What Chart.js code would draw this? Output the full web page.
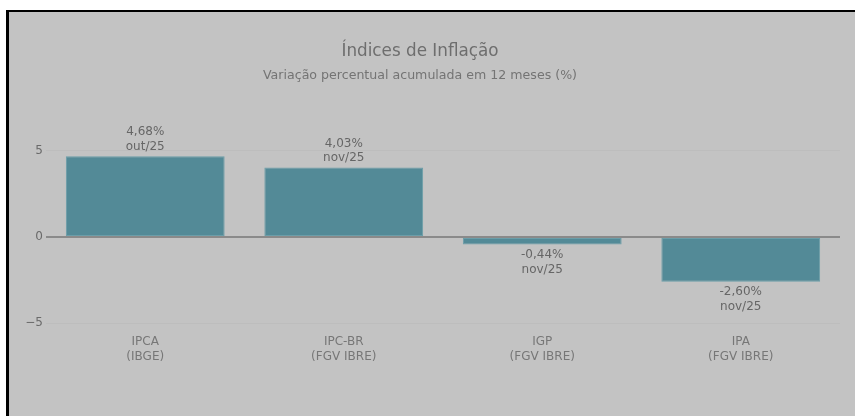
<!DOCTYPE html>
<html>
<head>
<meta charset="utf-8">
<script src="https://cdn.jsdelivr.net/npm/chart.js@4.4.1/dist/chart.umd.min.js"></script>
<style>
  html, body { margin: 0; padding: 0; background: #ffffff; width: 855px; height: 416px; overflow: hidden; }
  #panel { position: absolute; left: 6px; top: 10px; width: 860px; height: 420px;
           background: #c3c3c3; border-left: 3px solid #000; border-top: 2px solid #000; }
  #wrap { position: absolute; left: 0; top: 0; width: 855px; height: 416px; }
</style>
</head>
<body>
<div id="panel"></div>
<div id="wrap"><canvas id="c" width="855" height="416"></canvas></div>
<script>
const categories = [['IPCA', '(IBGE)'], ['IPC-BR', '(FGV IBRE)'], ['IGP', '(FGV IBRE)'], ['IPA', '(FGV IBRE)']];
const values = [4.68, 4.03, -0.44, -2.60];
const refMonths = ['out/25', 'nov/25', 'nov/25', 'nov/25'];
const yTicks = [-5, 0, 5];
const titleText = 'Índices de Inflação';
const subtitleText = 'Variação percentual acumulada em 12 meses (%)';

const FONT = "'DejaVu Sans', Verdana, sans-serif";

const barLabels = {
  id: 'barLabels',
  afterDatasetsDraw(chart) {
    const ctx = chart.ctx;
    const meta = chart.getDatasetMeta(0);
    ctx.save();
    ctx.font = '12px ' + FONT;
    ctx.fillStyle = '#666666';
    ctx.textAlign = 'center';
    ctx.textBaseline = 'middle';
    meta.data.forEach((el, i) => {
      const v = values[i];
      const txt = v.toFixed(2).replace('.', ',') + '%';
      if (v >= 0) {
        ctx.fillText(refMonths[i], el.x, el.y - 9.5);
        ctx.fillText(txt, el.x, el.y - 24);
      } else {
        ctx.fillText(txt, el.x, el.y + 10.5);
        ctx.fillText(refMonths[i], el.x, el.y + 25.5);
      }
    });
    ctx.restore();
  }
};

new Chart(document.getElementById('c'), {
  type: 'bar',
  data: {
    labels: categories,
    datasets: [{
      data: values,
      backgroundColor: '#538a97',
      borderColor: '#6b9ea9',
      borderWidth: 1,
      borderSkipped: false,
      barPercentage: 0.8,
      categoryPercentage: 1.0
    }]
  },
  options: {
    responsive: false,
    animation: false,
    devicePixelRatio: 1,
    layout: { padding: { left: 0, right: 15, top: 42, bottom: 41 } },
    plugins: {
      legend: { display: false },
      tooltip: { enabled: false },
      title: {
        display: true, text: titleText, color: '#6e6e6e',
        font: { family: FONT, size: 16.8, weight: 'normal' },
        padding: { top: 0, bottom: 6 }
      },
      subtitle: {
        display: true, text: subtitleText, color: '#747474',
        font: { family: FONT, size: 12.6, weight: 'normal' },
        padding: { top: 0, bottom: 67.5 }
      }
    },
    scales: {
      x: {
        grid: { display: false, drawTicks: false },
        border: { display: false },
        ticks: {
          color: '#777777', autoSkip: false, maxRotation: 0, padding: 11,
          font: { family: FONT, size: 12, lineHeight: 1.25 }
        }
      },
      y: {
        min: -5, max: 5,
        afterBuildTicks(scale) { scale.ticks = yTicks.map(v => ({ value: v })); },
        afterFit(scale) { scale.width = 46; },
        border: { display: false },
        grid: {
          drawTicks: false,
          color: c => c.tick && c.tick.value === 0 ? '#8a8a8a' : '#bdbdbd',
          lineWidth: c => c.tick && c.tick.value === 0 ? 2 : 1
        },
        ticks: {
          color: '#6a6a6a', padding: 3,
          font: { family: FONT, size: 12 },
          callback: v => v < 0 ? '\u2212' + Math.abs(v) : String(v)
        }
      }
    }
  },
  plugins: [barLabels]
});
</script>
</body>
</html>
